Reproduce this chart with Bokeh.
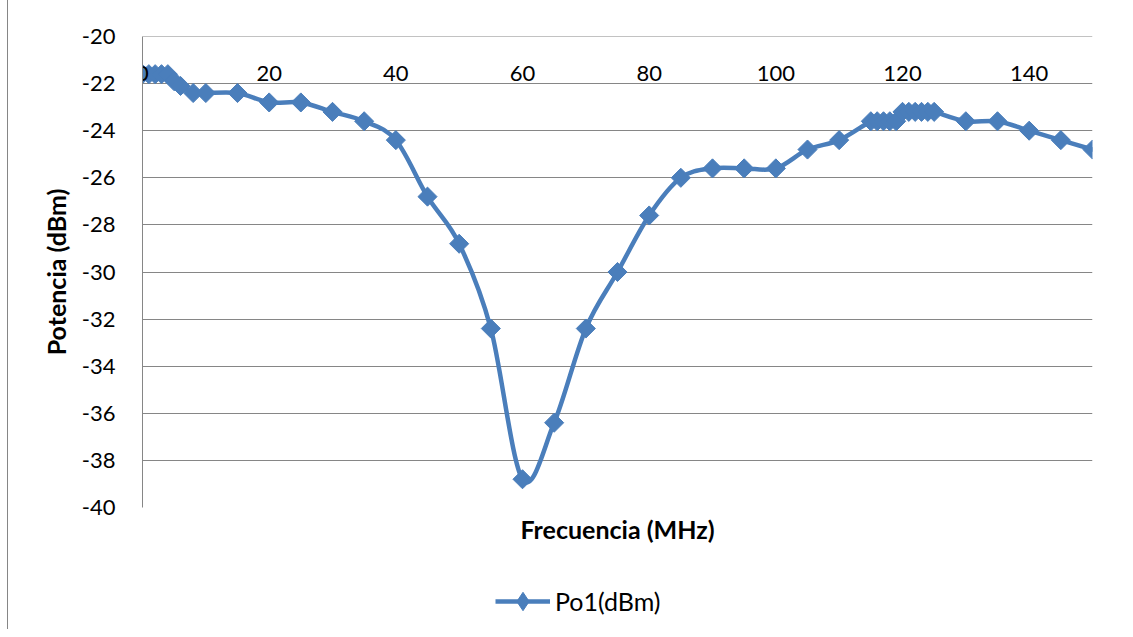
import numpy as np
from bokeh.plotting import figure
from bokeh.layouts import column
from bokeh.models import Range1d, FixedTicker, Legend, LegendItem, Title
from bokeh.embed import file_html
from bokeh.resources import INLINE

# ---- data ----
freq_mhz = [0, 1, 2, 3, 4, 5, 6, 8, 10, 15, 20, 25, 30, 35, 40, 45, 50, 55, 60,
            65, 70, 75, 80, 85, 90, 95, 100, 105, 110, 115, 116, 117, 118, 119,
            120, 121, 122, 123, 124, 125, 130, 135, 140, 145, 150]
po1_dbm = [-21.6, -21.6, -21.6, -21.6, -21.6, -21.9, -22.1, -22.4, -22.4, -22.4,
           -22.8, -22.8, -23.2, -23.6, -24.4, -26.8, -28.8, -32.4, -38.8, -36.4,
           -32.4, -30.0, -27.6, -26.0, -25.6, -25.6, -25.6, -24.8, -24.4, -23.6,
           -23.6, -23.6, -23.6, -23.6, -23.2, -23.2, -23.2, -23.2, -23.2, -23.2,
           -23.6, -23.6, -24.0, -24.4, -24.8]
series_name = "Po1(dBm)"
x_ticks = [0, 20, 40, 60, 80, 100, 120, 140]
x_tick_labels = ["0", "20", "40", "60", "80", "100", "120", "140"]
y_ticks = [-40, -38, -36, -34, -32, -30, -28, -26, -24, -22, -20]
y_tick_labels = ["-40", "-38", "-36", "-34", "-32", "-30", "-28", "-26", "-24",
                 "-22", "-20"]
x_title = "Frecuencia (MHz)"
y_title = "Potencia (dBm)"

FONT = "Lato"
BLUE = "#4A7EBB"
GRID = "#868686"
W = 1117

p = figure(width=W, height=560, output_backend="svg", toolbar_location=None,
           title=None,
           x_range=Range1d(0, 150), y_range=Range1d(-40, -20),
           min_border_left=134, min_border_right=W - 1084, min_border_top=36,
           min_border_bottom=53)
p.outline_line_color = None
p.background_fill_color = "white"
p.border_fill_color = "white"

# smoothed line (Excel-like Catmull-Rom bezier segments computed from the data)
xs = np.asarray(freq_mhz, float)
ys = np.asarray(po1_dbm, float)
n = len(xs)
xp = np.concatenate([[xs[0]], xs, [xs[-1]]])
yp = np.concatenate([[ys[0]], ys, [ys[-1]]])
x0, y0 = xp[1:n], yp[1:n]
x1, y1 = xp[2:n + 1], yp[2:n + 1]
cx0 = x0 + (xp[2:n + 1] - xp[0:n - 1]) / 6.0
cy0 = y0 + (yp[2:n + 1] - yp[0:n - 1]) / 6.0
cx1 = x1 - (xp[3:n + 2] - xp[1:n]) / 6.0
cy1 = y1 - (yp[3:n + 2] - yp[1:n]) / 6.0
p.bezier(x0=x0, y0=y0, x1=x1, y1=y1, cx0=cx0, cy0=cy0, cx1=cx1, cy1=cy1,
         line_color=BLUE, line_width=4.5, line_cap="round")

p.scatter(freq_mhz, po1_dbm, marker="square", angle=np.pi / 4, size=13.5,
          fill_color=BLUE, line_color=BLUE)

# axes
xa = p.xaxis[0]
xa.fixed_location = -20
xa.ticker = FixedTicker(ticks=x_ticks)
xa.major_label_overrides = dict(zip(x_ticks, x_tick_labels))
xa.major_tick_in = 0
xa.major_tick_out = 0
xa.minor_tick_in = 0
xa.minor_tick_out = 0
xa.axis_line_color = GRID
xa.major_label_standoff = 29
xa.major_label_text_font = FONT
xa.major_label_text_font_size = "22px"
xa.major_label_text_color = "black"

ya = p.yaxis[0]
ya.ticker = FixedTicker(ticks=y_ticks)
ya.major_label_overrides = dict(zip(y_ticks, y_tick_labels))
ya.major_tick_in = 0
ya.major_tick_out = 0
ya.minor_tick_in = 0
ya.minor_tick_out = 0
ya.axis_line_color = GRID
ya.major_label_standoff = 27
ya.major_label_text_font = FONT
ya.major_label_text_font_size = "22px"
ya.major_label_text_color = "black"
ya.axis_label = y_title
ya.axis_label_text_font = FONT
ya.axis_label_text_font_size = "25px"
ya.axis_label_text_font_style = "bold"
ya.axis_label_text_color = "black"
ya.axis_label_standoff = 8

p.xgrid.grid_line_color = None
p.ygrid.ticker = FixedTicker(ticks=y_ticks)
p.ygrid.grid_line_color = GRID
p.ygrid.grid_line_width = 1

xt = Title(text=x_title, align="center", text_font=FONT, text_font_size="25px",
           text_font_style="bold", text_color="black", standoff=8)
p.add_layout(xt, "below")

# legend strip below the chart (its frame is aligned with the chart's frame)
p2 = figure(width=W, height=69, output_backend="svg", toolbar_location=None,
            title=None, x_range=Range1d(0, 1), y_range=Range1d(0, 1),
            x_axis_location=None, y_axis_location=None,
            min_border_left=0, min_border_right=0, min_border_top=0,
            min_border_bottom=0)
p2.grid.visible = False
p2.outline_line_color = None
p2.background_fill_color = "white"
p2.border_fill_color = "white"
leg_line = p2.line(freq_mhz[:1], po1_dbm[:1], line_color=BLUE, line_width=4.5)
leg_pts = p2.scatter(freq_mhz[:1], po1_dbm[:1], marker="diamond", size=20,
                     fill_color=BLUE, line_color=BLUE)
legend = Legend(items=[LegendItem(label=series_name, renderers=[leg_line, leg_pts])],
                location=(353, 5), orientation="horizontal",
                label_text_font=FONT, label_text_font_size="25px",
                label_text_color="black", glyph_width=55, glyph_height=46,
                label_standoff=5, padding=0, margin=0, border_line_color=None,
                background_fill_alpha=0)
p2.add_layout(legend, "center")

layout = column(p, p2, spacing=0,
                styles={"margin-left": "7px", "border-left": "1px solid #868686"})

open("out.html", "w").write(file_html(layout, INLINE))
